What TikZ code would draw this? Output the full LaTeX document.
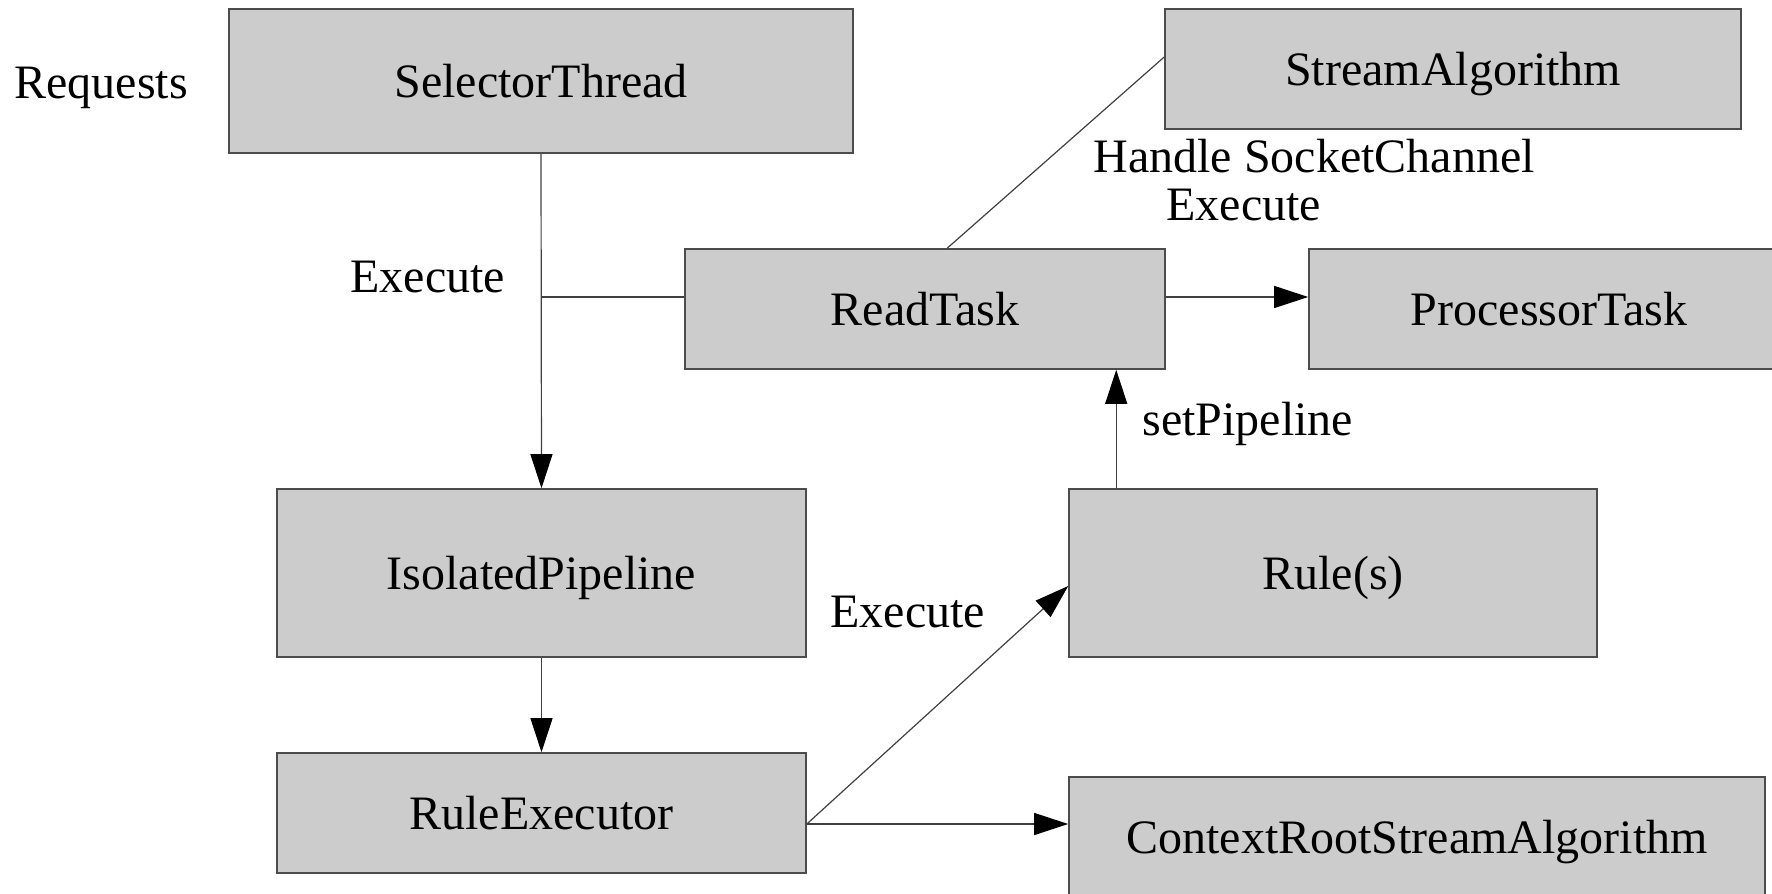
\documentclass[tikz,border=0pt]{standalone}
\usepackage{fontspec}
\setmainfont{Liberation Serif}
\usetikzlibrary{arrows.meta,calc}

\tikzset{
  box/.style={draw=black!70, line width=0.8pt, fill=black!20, inner sep=0pt,
    text height=16.5pt, text depth=0pt,
    font=\fontsize{24pt}{28pt}\selectfont},
  lbl/.style={inner sep=0pt, anchor=base west, font=\fontsize{24pt}{28pt}\selectfont},
  conn/.style={draw=black!75, line width=0.6pt},
  arr/.style={conn, -{Triangle[length=17pt,width=11pt,black]}},
}

\begin{document}
\begin{tikzpicture}[x=0.5pt,y=-0.5pt]
  \useasboundingbox (0,0) rectangle (1772,894);

  % components
  \node[box, minimum width=312pt, minimum height=72pt] (sel)    at (541,81)    {SelectorThread};
  \node[box, minimum width=240pt, minimum height=60pt] (read)   at (925,309)   {ReadTask};
  \node[box, minimum width=288pt, minimum height=60pt] (stream) at (1453,69)   {StreamAlgorithm};
  \node[box, minimum width=240pt, minimum height=60pt] (proc)   at (1549,309)  {ProcessorTask};
  \node[box, minimum width=264.5pt, minimum height=84pt] (iso)  at (541.5,573) {IsolatedPipeline};
  \node[box, minimum width=264.5pt, minimum height=60pt] (rexec) at (541.5,813) {RuleExecutor};
  \node[box, minimum width=264pt, minimum height=84pt] (rule)   at (1333,573)  {Rule(s)};
  \node[box, minimum width=348pt, minimum height=60pt] (ctx)    at (1417,837)  {ContextRootStreamAlgorithm};

  % labels
  \node[lbl] (lreq)  at (14,98)    {Requests};
  \node[lbl] (lexe1) at (350,292)  {Execute};
  \node[lbl] (lhsc)  at (1093,172) {Handle SocketChannel};
  \node[lbl] (lexe2) at (1166,220) {Execute};
  \node[lbl] (lset)  at (1142,435) {setPipeline};
  \node[lbl] (lexe3) at (830,627)  {Execute};

  % connectors
  \draw[arr] (sel.south) -- (iso.north);
  \coordinate (jr) at (sel.south |- 0,297);
  \draw[conn] (jr) -- (jr -| read.west);
  \draw[arr] (read.east |- jr) -- (proc.west |- jr);
  \draw[conn] ([xshift=131.5pt]read.north west) -- ([yshift=6pt]stream.west);
  \draw[arr] (iso.south) -- (rexec.north);
  \coordinate (re) at ([yshift=-5.5pt]rexec.east);
  \draw[arr] (re) -- ([yshift=-6.5pt]rule.west);
  \draw[arr] (re) -- (re -| ctx.west);
  \coordinate (rt) at ([xshift=24pt]rule.north west);
  \draw[arr] (rt) -- (rt |- read.south);
\end{tikzpicture}
\end{document}
